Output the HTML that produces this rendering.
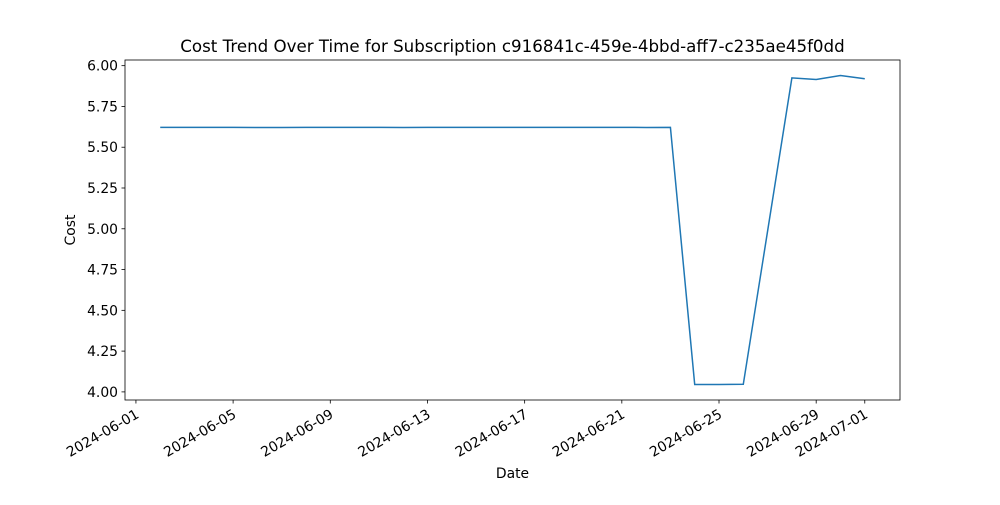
<!DOCTYPE html>
<html><head><meta charset="utf-8"><style>body{margin:0;background:#fff}svg{font-family:"DejaVu Sans","Liberation Sans",sans-serif}</style></head>
<body>
<svg id="c" width="1000" height="500"></svg>
<script>
const dates=["2024-06-02","2024-06-03","2024-06-04","2024-06-05","2024-06-06","2024-06-07","2024-06-08","2024-06-09","2024-06-10","2024-06-11","2024-06-12","2024-06-13","2024-06-14","2024-06-15","2024-06-16","2024-06-17","2024-06-18","2024-06-19","2024-06-20","2024-06-21","2024-06-22","2024-06-23","2024-06-24","2024-06-25","2024-06-26","2024-06-28","2024-06-29","2024-06-30","2024-07-01"];
const costs=[5.622,5.622,5.622,5.622,5.621,5.621,5.622,5.622,5.622,5.622,5.621,5.622,5.622,5.622,5.622,5.622,5.622,5.622,5.622,5.622,5.621,5.622,4.045,4.045,4.047,5.925,5.915,5.94,5.92];
const xTicks=["2024-06-01","2024-06-05","2024-06-09","2024-06-13","2024-06-17","2024-06-21","2024-06-25","2024-06-29","2024-07-01"];
const yTicks=[4.00,4.25,4.50,4.75,5.00,5.25,5.50,5.75,6.00];
const L=125,R=900,T=60,B=400,NS="http://www.w3.org/2000/svg";
const day=s=>Date.parse(s)/864e5;
const d0=day(dates[0]),d1=day(dates[dates.length-1]),dm=(d1-d0)*0.05;
const ymn=Math.min(...costs),ymx=Math.max(...costs),ym=(ymx-ymn)*0.05;
const x=s=>L+(day(s)-(d0-dm))/((d1-d0)+2*dm)*(R-L);
const y=v=>B-(v-(ymn-ym))/((ymx-ymn)+2*ym)*(B-T);
const svg=document.getElementById('c');
function mk(t,a,p){const e=document.createElementNS(NS,t);for(const k in a)e.setAttribute(k,a[k]);(p||svg).appendChild(e);return e;}
xTicks.forEach(t=>{const g=mk('g',{});


const px=x(t);mk('line',{x1:px,x2:px,y1:B,y2:B+3.5,stroke:'#000','stroke-width':0.8},g);
const tx=mk('text',{x:px,y:B+18,'font-size':13.9,'text-anchor':'end',transform:`rotate(-30 ${px} ${B+10})`},g);tx.textContent=t;});
yTicks.forEach(v=>{const g=mk('g',{});


const py=y(v);mk('line',{x1:L-3.5,x2:L,y1:py,y2:py,stroke:'#000','stroke-width':0.8},g);
const tx=mk('text',{x:L-7,y:py+5,'font-size':13.9,'text-anchor':'end'},g);tx.textContent=v.toFixed(2);});
const line=mk('polyline',{points:dates.map((d,i)=>x(d)+','+y(costs[i])).join(' '),fill:'none',stroke:'#1f77b4','stroke-width':1.5});


const fr=mk('rect',{x:L,y:T,width:R-L,height:B-T,fill:'none',stroke:'#000','stroke-width':0.8});


const ti=mk('text',{x:(L+R)/2,y:T-8,'font-size':16.67,'text-anchor':'middle'});ti.textContent='Cost Trend Over Time for Subscription c916841c-459e-4bbd-aff7-c235ae45f0dd';


const xl=mk('text',{x:(L+R)/2,y:478,'font-size':13.9,'text-anchor':'middle'});xl.textContent='Date';


const yl=mk('text',{x:75,y:(T+B)/2,'font-size':13.9,'text-anchor':'middle',transform:`rotate(-90 75 ${(T+B)/2})`});yl.textContent='Cost';


</script>
</body></html>
